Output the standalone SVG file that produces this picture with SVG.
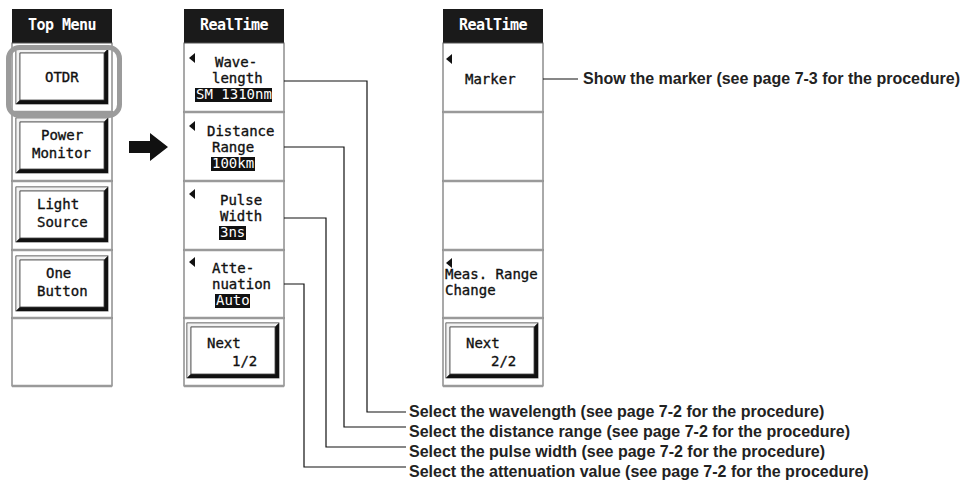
<svg xmlns="http://www.w3.org/2000/svg" width="973" height="500" viewBox="0 0 973 500">
<defs>
<style>
.hdr{fill:#1a1a1a}
.hdrt{font-family:"DejaVu Sans Mono","Liberation Mono",monospace;font-size:15px;letter-spacing:-0.5px;font-weight:bold;fill:#fff;text-anchor:middle}
.cell{fill:#fff;stroke:#555;stroke-width:1}
.sep{stroke:#9a9a9a;stroke-width:2.5}
.t{font-family:"DejaVu Sans Mono","Liberation Mono",monospace;font-size:14px;fill:#111;stroke:#111;stroke-width:0.35}
.hl{fill:#111}
.ht{font-family:"DejaVu Sans Mono","Liberation Mono",monospace;font-size:14px;fill:#fff}
.tri{fill:#111}
.lbl{font-family:"Liberation Sans",Arial,sans-serif;font-size:16px;font-weight:bold;fill:#222}
.con{fill:none;stroke:#111;stroke-width:1.2}
.bo{fill:#fff;stroke:#666;stroke-width:1}
.bd{fill:#111}
.bl{fill:#f2f2f2;stroke:#777;stroke-width:0.8}
.bf{fill:#fff;stroke:#444;stroke-width:0.8}
.sel{fill:none;stroke:#9b9b9b;stroke-width:5}
</style>
<g id="btn">
<rect class="bo" x="0" y="0" width="92" height="55"/>
<polygon class="bl" points="0,0 92,0 88,4 4,4 4,51 0,55"/>
<polygon class="bd" points="92,0 92,55 0,55 4,51 88,51 88,4"/>
<rect class="bf" x="4" y="4" width="84" height="47"/>
</g>
<polygon id="tri" class="tri" points="6,0 6,10 0,5"/>
</defs>
<rect width="973" height="500" fill="#fff"/>

<!-- Column 1: Top Menu -->
<g id="topmenu-header"><rect class="hdr" x="12" y="9" width="100" height="34"/><text class="hdrt" x="62" y="30">Top Menu</text></g>
<g id="otdr"><rect class="cell" x="12" y="43" width="100" height="69"/><use href="#btn" x="16" y="49"/><text class="t" x="45" y="82">OTDR</text></g>
<g id="power-monitor"><rect class="cell" x="12" y="112" width="100" height="69"/><use href="#btn" x="16" y="118"/><text class="t" x="41" y="140">Power</text><text class="t" x="32" y="158">Monitor</text></g>
<g id="light-source"><rect class="cell" x="12" y="181" width="100" height="69"/><use href="#btn" x="16" y="187"/><text class="t" x="37" y="209">Light</text><text class="t" x="37" y="227">Source</text></g>
<g id="one-button"><rect class="cell" x="12" y="250" width="100" height="68"/><use href="#btn" x="16" y="256"/><text class="t" x="46" y="278">One</text><text class="t" x="37" y="296">Button</text></g>
<g id="empty-1"><rect class="cell" x="12" y="318" width="100" height="68"/></g>
<g id="seps-1"><line class="sep" x1="12" y1="112" x2="112" y2="112"/><line class="sep" x1="12" y1="181" x2="112" y2="181"/><line class="sep" x1="12" y1="250" x2="112" y2="250"/><line class="sep" x1="12" y1="318" x2="112" y2="318"/><line class="sep" x1="12" y1="386" x2="112" y2="386"/></g>
<g id="otdr-highlight"><rect class="sel" x="8.5" y="47.5" width="111" height="68" rx="11"/></g>

<!-- Arrow -->
<g id="arrow"><polygon fill="#111" points="129,141 150,141 150,133 168,147 150,161 150,153 129,153"/></g>

<!-- Column 2: RealTime 1/2 -->
<g id="rt1-header"><rect class="hdr" x="184" y="9" width="100" height="34"/><text class="hdrt" x="234" y="30">RealTime</text></g>
<g id="wavelength"><rect class="cell" x="184" y="43" width="100" height="69"/><use href="#tri" x="189" y="53"/><text class="t" x="215" y="67">Wave-</text><text class="t" x="212" y="83">length</text><rect class="hl" x="195" y="88" width="77" height="14"/><text class="ht" x="196" y="99">SM 1310nm</text></g>
<g id="distance-range"><rect class="cell" x="184" y="112" width="100" height="69"/><use href="#tri" x="189" y="121"/><text class="t" x="207" y="136">Distance</text><text class="t" x="212" y="152">Range</text><rect class="hl" x="211" y="157" width="44" height="14"/><text class="ht" x="212" y="168">100km</text></g>
<g id="pulse-width"><rect class="cell" x="184" y="181" width="100" height="69"/><use href="#tri" x="189" y="189"/><text class="t" x="220" y="205">Pulse</text><text class="t" x="220" y="221">Width</text><rect class="hl" x="219" y="226" width="27" height="14"/><text class="ht" x="220" y="237">3ns</text></g>
<g id="attenuation"><rect class="cell" x="184" y="250" width="100" height="68"/><use href="#tri" x="189" y="257"/><text class="t" x="212" y="273">Atte-</text><text class="t" x="212" y="289">nuation</text><rect class="hl" x="215" y="294" width="35" height="14"/><text class="ht" x="216" y="305">Auto</text></g>
<g id="next-1"><rect class="cell" x="184" y="318" width="100" height="68"/><use href="#btn" x="187" y="323"/><text class="t" x="207" y="348">Next</text><text class="t" x="232" y="366">1/2</text></g>
<g id="seps-2"><line class="sep" x1="184" y1="112" x2="284" y2="112"/><line class="sep" x1="184" y1="181" x2="284" y2="181"/><line class="sep" x1="184" y1="250" x2="284" y2="250"/><line class="sep" x1="184" y1="318" x2="284" y2="318"/><line class="sep" x1="184" y1="386" x2="284" y2="386"/></g>

<!-- Column 3: RealTime 2/2 -->
<g id="rt2-header"><rect class="hdr" x="443" y="9" width="100" height="34"/><text class="hdrt" x="493" y="30">RealTime</text></g>
<g id="marker"><rect class="cell" x="443" y="43" width="100" height="69"/><use href="#tri" x="446" y="54"/><text class="t" x="465" y="84">Marker</text></g>
<g id="empty-2"><rect class="cell" x="443" y="112" width="100" height="69"/></g>
<g id="empty-3"><rect class="cell" x="443" y="181" width="100" height="69"/></g>
<g id="meas-range"><rect class="cell" x="443" y="250" width="100" height="68"/><use href="#tri" x="446" y="258"/><text class="t" x="445" y="279">Meas. Range</text><text class="t" x="445" y="295">Change</text></g>
<g id="next-2"><rect class="cell" x="443" y="318" width="100" height="68"/><use href="#btn" x="446" y="323"/><text class="t" x="466" y="348">Next</text><text class="t" x="491" y="366">2/2</text></g>
<g id="seps-3"><line class="sep" x1="443" y1="112" x2="543" y2="112"/><line class="sep" x1="443" y1="181" x2="543" y2="181"/><line class="sep" x1="443" y1="250" x2="543" y2="250"/><line class="sep" x1="443" y1="318" x2="543" y2="318"/><line class="sep" x1="443" y1="386" x2="543" y2="386"/></g>

<!-- Connectors -->
<g id="connectors">
<polyline class="con" points="284,81 367,81 367,412 406,412"/>
<polyline class="con" points="284,147 344,147 344,427 406,427"/>
<polyline class="con" points="284,218 326,218 326,447 406,447"/>
<polyline class="con" points="284,284 304,284 304,467 406,467"/>
<polyline class="con" points="543,79 578,79"/>
</g>

<!-- Labels -->
<g id="labels">
<text class="lbl" x="583" y="84">Show the marker (see page 7-3 for the procedure)</text>
<text class="lbl" x="409" y="417">Select the wavelength (see page 7-2 for the procedure)</text>
<text class="lbl" x="409" y="437">Select the distance range (see page 7-2 for the procedure)</text>
<text class="lbl" x="409" y="457">Select the pulse width (see page 7-2 for the procedure)</text>
<text class="lbl" x="409" y="477">Select the attenuation value (see page 7-2 for the procedure)</text>
</g>
</svg>
